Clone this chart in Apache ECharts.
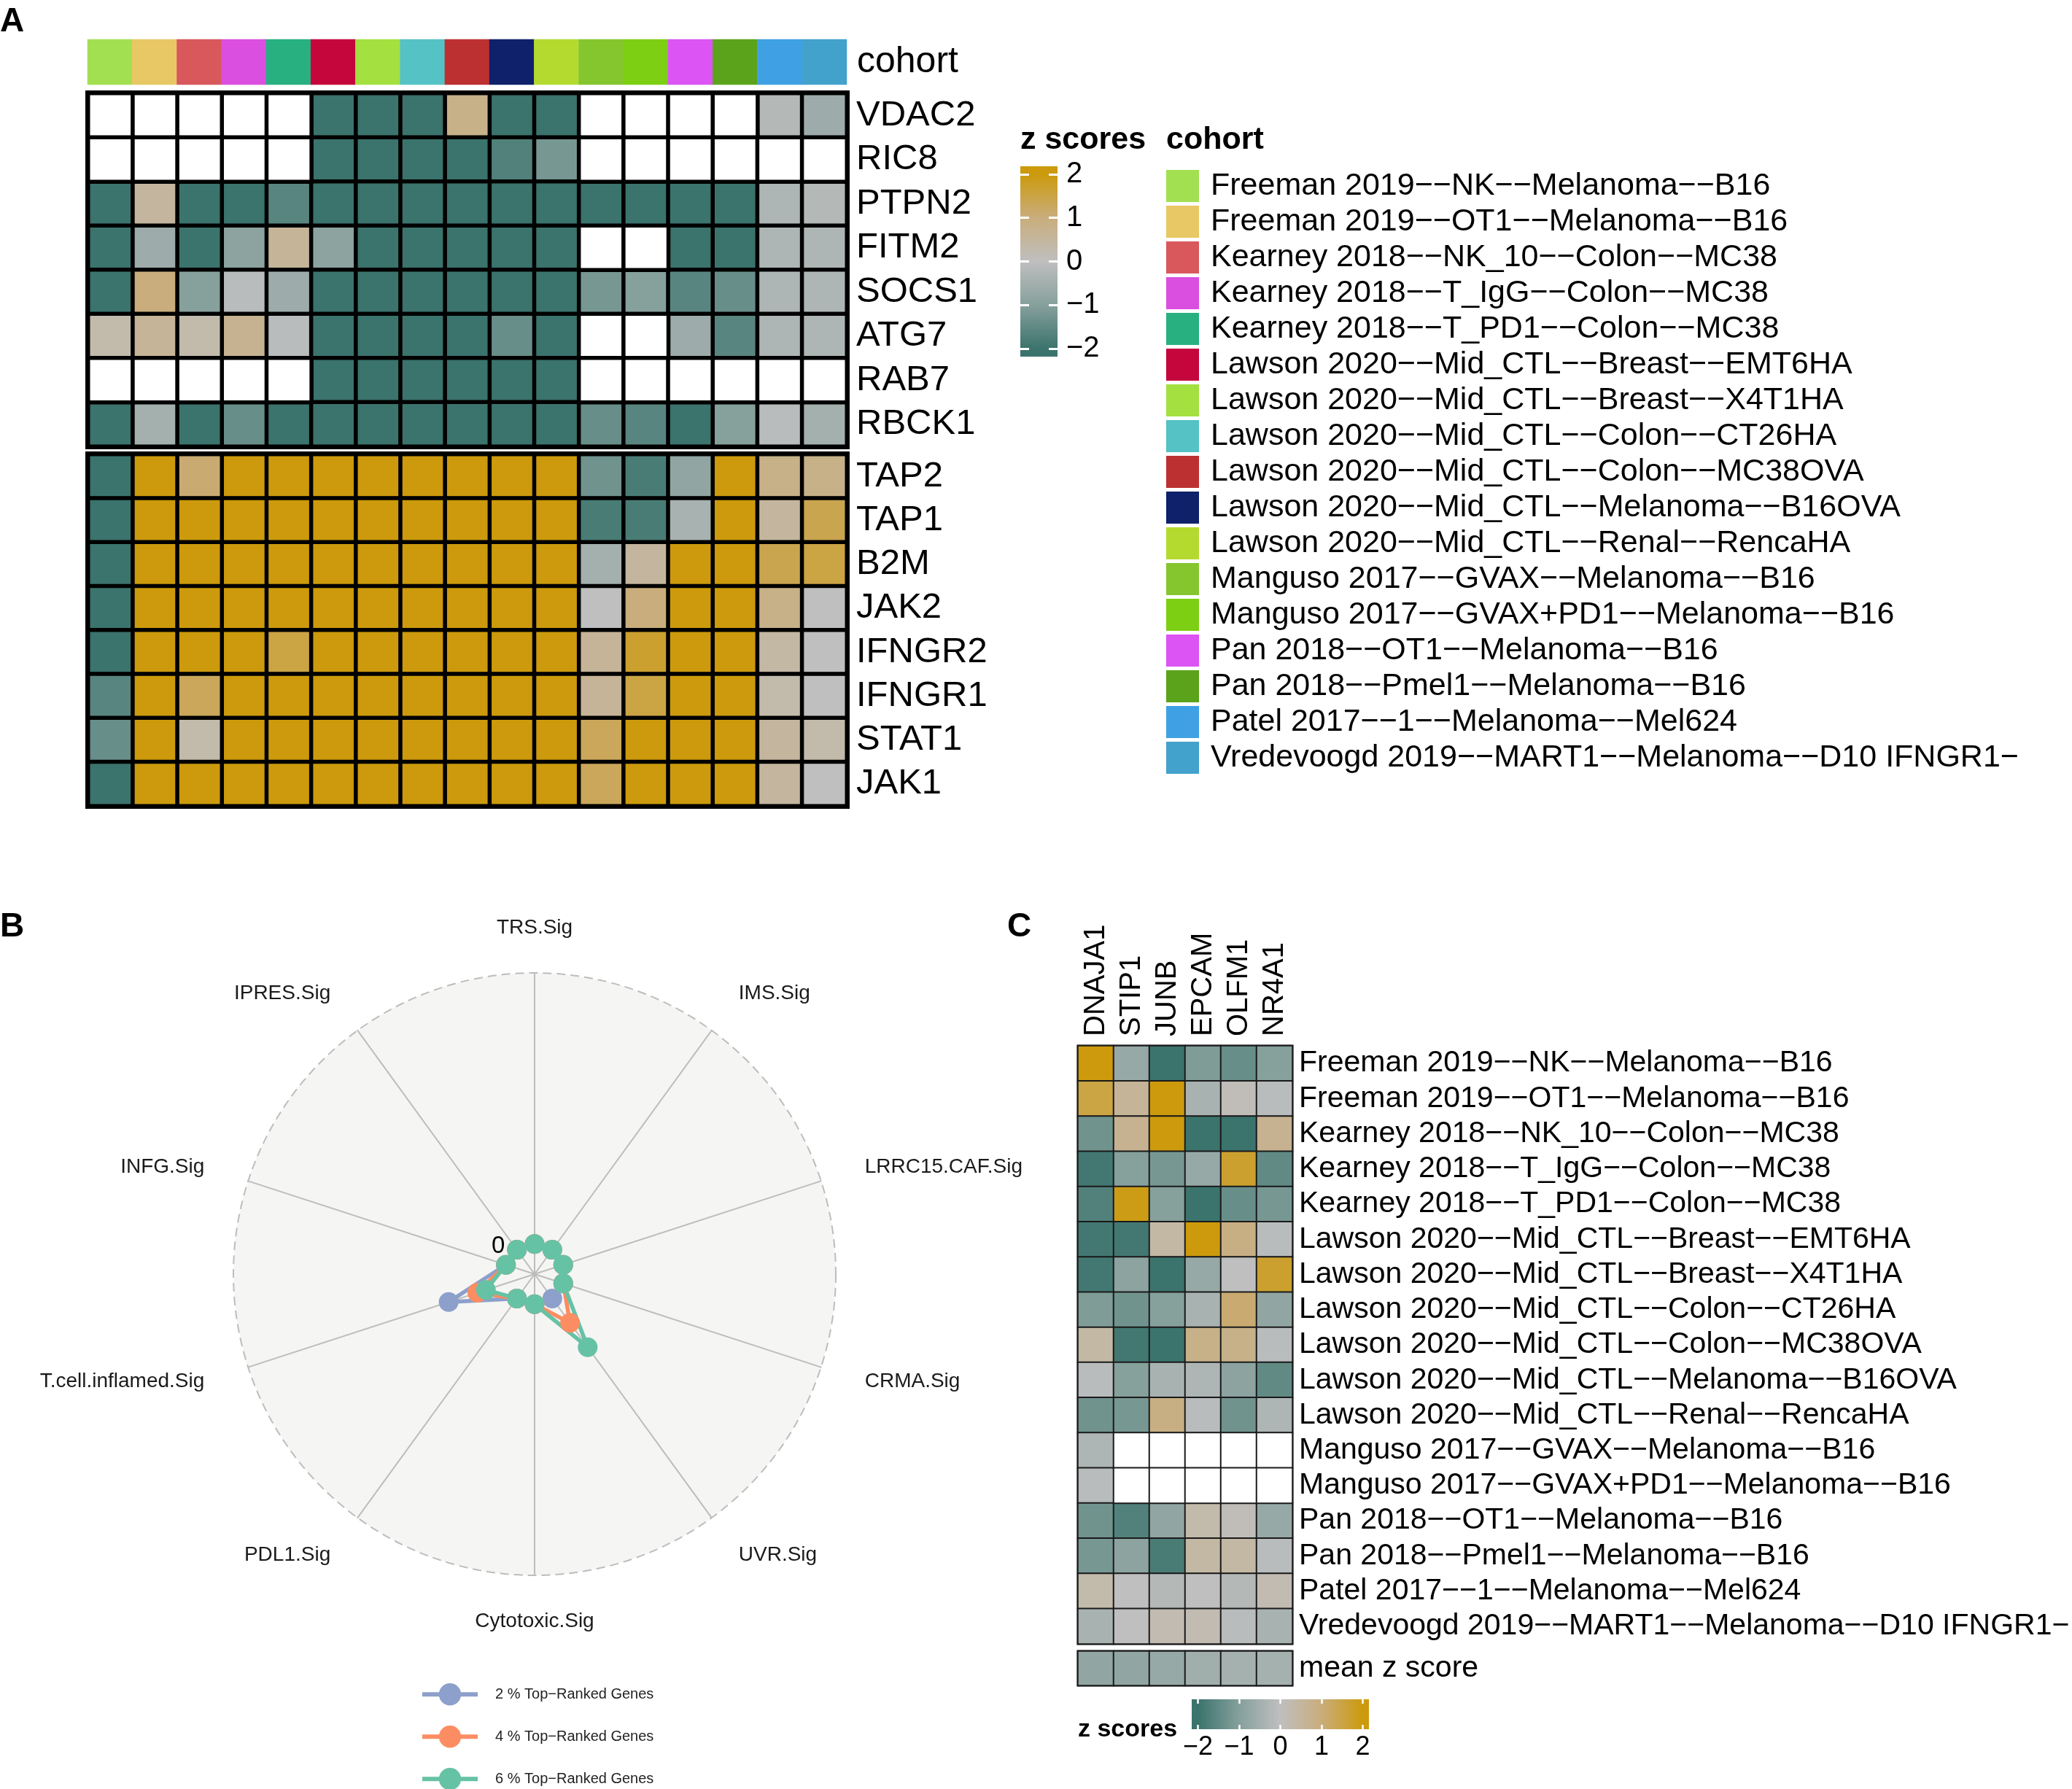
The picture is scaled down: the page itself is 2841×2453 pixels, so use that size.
<!DOCTYPE html>
<html lang="en">
<head>
<meta charset="UTF-8">
<title>Cohort z scores</title>
<script src="https://cdn.jsdelivr.net/npm/echarts@6/dist/echarts.min.js"></script>
<style>
  html, body { margin: 0; padding: 0; background: #fff; }
  #main { width: 2841px; height: 2453px; }
</style>
</head>
<body>
<div id="main"></div>
<script>
// ---------- panel A ----------
const cohorts = [
  'Freeman 2019−−NK−−Melanoma−−B16',
  'Freeman 2019−−OT1−−Melanoma−−B16',
  'Kearney 2018−−NK_10−−Colon−−MC38',
  'Kearney 2018−−T_IgG−−Colon−−MC38',
  'Kearney 2018−−T_PD1−−Colon−−MC38',
  'Lawson 2020−−Mid_CTL−−Breast−−EMT6HA',
  'Lawson 2020−−Mid_CTL−−Breast−−X4T1HA',
  'Lawson 2020−−Mid_CTL−−Colon−−CT26HA',
  'Lawson 2020−−Mid_CTL−−Colon−−MC38OVA',
  'Lawson 2020−−Mid_CTL−−Melanoma−−B16OVA',
  'Lawson 2020−−Mid_CTL−−Renal−−RencaHA',
  'Manguso 2017−−GVAX−−Melanoma−−B16',
  'Manguso 2017−−GVAX+PD1−−Melanoma−−B16',
  'Pan 2018−−OT1−−Melanoma−−B16',
  'Pan 2018−−Pmel1−−Melanoma−−B16',
  'Patel 2017−−1−−Melanoma−−Mel624',
  'Vredevoogd 2019−−MART1−−Melanoma−−D10 IFNGR1−'
];
const cohortColors = ['#a2e052', '#e8c864', '#d8585c', '#da4fdf', '#28b080', '#c5063d', '#a3e040', '#55c2c5', '#bd3031',
  '#0f216a', '#b4da30', '#85c62f', '#7dcf14', '#dc54f4', '#5ba31b', '#3fa1e4', '#42a2cb'];

const genesTop = ['VDAC2', 'RIC8', 'PTPN2', 'FITM2', 'SOCS1', 'ATG7', 'RAB7', 'RBCK1'];
const genesBot = ['TAP2', 'TAP1', 'B2M', 'JAK2', 'IFNGR2', 'IFNGR1', 'STAT1', 'JAK1'];
const N = null; // missing value, drawn white

// one row per gene, one value per cohort
const zTop = [
  [N, N, N, N, N, -2, -2, -2, 0.8, -2, -2, N, N, N, N, -0.2, -0.6],
  [N, N, N, N, N, -2, -2, -2, -2, -1.7, -1.2, N, N, N, N, N, N],
  [-2, 0.5, -2, -2, -1.6, -2, -2, -2, -2, -2, -2, -2, -2, -2, -2, -0.3, -0.2],
  [-2, -0.6, -2, -0.9, 0.6, -0.9, -2, -2, -2, -2, -2, N, N, -2, -2, -0.3, -0.3],
  [-2, 1.0, -1.0, -0.1, -0.6, -2, -2, -2, -2, -2, -2, -1.2, -1.0, -1.6, -1.4, -0.3, -0.3],
  [0.3, 0.6, 0.3, 0.7, -0.1, -2, -2, -2, -2, -1.4, -2, N, N, -0.6, -1.6, -0.3, -0.3],
  [N, N, N, N, N, -2, -2, -2, -2, -2, -2, N, N, N, N, N, N],
  [-2, -0.5, -2, -1.4, -2, -2, -2, -2, -2, -2, -2, -1.4, -1.6, -2, -1.0, -0.1, -0.5]
];
const zBot = [
  [-2, 2, 1.1, 2, 2, 2, 2, 2, 2, 2, 2, -1.3, -1.8, -0.8, 2, 0.8, 0.8],
  [-2, 2, 2, 2, 2, 2, 2, 2, 2, 2, 2, -1.8, -1.8, -0.4, 2, 0.5, 1.4],
  [-2, 2, 2, 2, 2, 2, 2, 2, 2, 2, 2, -0.5, 0.5, 2, 2, 1.4, 1.5],
  [-2, 2, 2, 2, 2, 2, 2, 2, 2, 2, 2, 0, 1.0, 2, 2, 0.8, 0],
  [-2, 2, 2, 2, 1.5, 2, 2, 2, 2, 2, 2, 0.6, 1.7, 2, 2, 0.4, 0],
  [-1.6, 2, 1.3, 2, 2, 2, 2, 2, 2, 2, 2, 0.6, 1.5, 2, 2, 0.3, 0],
  [-1.4, 2, 0.3, 2, 2, 2, 2, 2, 2, 2, 2, 1.3, 2, 2, 2, 0.5, 0.3],
  [-2, 2, 2, 2, 2, 2, 2, 2, 2, 2, 2, 1.3, 2, 2, 2, 0.5, 0]
];

// ---------- panel B ----------
// counter-clockwise from the top
const sigNames = ['TRS.Sig', 'IPRES.Sig', 'INFG.Sig', 'T.cell.inflamed.Sig', 'PDL1.Sig',
  'Cytotoxic.Sig', 'UVR.Sig', 'CRMA.Sig', 'LRRC15.CAF.Sig', 'IMS.Sig'];
const rankNames = ['2 % Top−Ranked Genes', '4 % Top−Ranked Genes', '6 % Top−Ranked Genes'];
const rank2 = [0, 0, 0, 1.0, 0, 0, 0, 0, 0, 0];
const rank4 = [0, 0, 0, 0.5, 0, 0, 0.5, 0, 0, 0];
const rank6 = [0, 0, 0, 0.35, 0, 0, 1.0, 0, 0, 0];
const rankColors = ['#8da0cb', '#fc8d62', '#66c2a5'];
const sigMin = -0.5, sigMax = 4.5;

// ---------- panel C ----------
const genesC = ['DNAJA1', 'STIP1', 'JUNB', 'EPCAM', 'OLFM1', 'NR4A1'];
// one row per cohort
const zC = [
  [2, -0.7, -2, -1.1, -1.4, -1.0],
  [1.5, 0.6, 2, -0.4, 0.1, -0.1],
  [-1.3, 0.7, 2, -2, -2, 0.7],
  [-1.9, -1.0, -1.2, -0.7, 1.7, -1.5],
  [-1.7, 1.9, -1.0, -2, -1.4, -1.2],
  [-1.9, -1.9, 0.4, 2, 0.9, -0.1],
  [-1.9, -0.9, -2, -0.7, 0, 1.7],
  [-1.1, -1.3, -1.0, -0.4, 1.1, -0.8],
  [0.4, -1.9, -2, 0.8, 0.8, -0.1],
  [-0.1, -1.0, -0.4, -0.3, -0.9, -1.5],
  [-1.3, -1.2, 0.9, -0.1, -1.3, -0.3],
  [-0.3, N, N, N, N, N],
  [-0.1, N, N, N, N, N],
  [-1.3, -1.7, -0.8, 0.3, 0.1, -0.7],
  [-1.2, -0.9, -1.8, 0.4, 0.4, -0.1],
  [0.3, 0, -0.2, 0, -0.2, 0.2],
  [-0.4, 0, 0.2, 0.2, -0.1, -0.4]
];
const zCmean = [[-0.8, -0.8, -0.7, -0.55, -0.45, -0.45]];

const heatColors = ['#3b736d', '#86a09c', '#bfbfbf', '#c9ad7c', '#cc9a0c']; // -2 .. 2
const legendTicks = [-2, -1, 0, 1, 2];
const fmt = v => (v < 0 ? '\u2212' + Math.abs(v) : String(v));
const font = "'Liberation Sans', Arial, sans-serif";

function cells(rows) {
  const val = [], na = [];
  rows.forEach((r, j) => r.forEach((v, i) => {
    if (v === null) na.push([i, j, 0]); else val.push([i, j, v]);
  }));
  return { val, na };
}

function stops(lo, hi, flip) {
  return heatColors.map((c, k) => {
    let o = (legendTicks[k] - lo) / (hi - lo);
    if (flip) o = 1 - o;
    return { offset: o, color: c };
  });
}

const series = [];
const mapped = [];
cohorts.forEach((c, i) => series.push({
  type: 'heatmap', name: c, xAxisIndex: 0, yAxisIndex: 0,
  data: [[i, 0, 1]], itemStyle: { color: cohortColors[i] }, emphasis: { disabled: true }
}));
function addHeat(rows, xi, yi, border, bw) {
  const d = cells(rows);
  mapped.push(series.length);
  series.push({ type: 'heatmap', xAxisIndex: xi, yAxisIndex: yi, data: d.val,
    itemStyle: { borderColor: border, borderWidth: bw }, emphasis: { disabled: true } });
  if (d.na.length) {
    series.push({ type: 'heatmap', xAxisIndex: xi, yAxisIndex: yi, data: d.na,
      itemStyle: { color: '#fff', borderColor: border, borderWidth: bw }, emphasis: { disabled: true } });
  }
}
addHeat(zTop, 1, 1, '#000', 5.5);
addHeat(zBot, 2, 2, '#000', 5.5);
addHeat(zC, 4, 5, '#1a1a1a', 2);
addHeat(zCmean, 5, 6, '#1a1a1a', 2);

[rank2, rank4, rank6].forEach((vals, k) => series.push({
  type: 'radar', radarIndex: 0, symbol: 'circle', symbolSize: 27,
  lineStyle: { width: 5.5, color: rankColors[k] }, itemStyle: { color: rankColors[k] },
  data: [{ name: rankNames[k], value: vals }], emphasis: { disabled: true }
}));
// empty line series only give the legend its line-and-dot keys
rankNames.forEach((n, k) => series.push({
  type: 'line', name: n, xAxisIndex: 8, yAxisIndex: 8, data: [], symbol: 'circle',
  lineStyle: { width: 6, color: rankColors[k] }, itemStyle: { color: rankColors[k] }
}));

const hidden = { show: false };
const catAxis = (gi, data, extra) => Object.assign({
  type: 'category', gridIndex: gi, data: data,
  axisLine: hidden, axisTick: hidden, splitLine: hidden, axisLabel: hidden
}, extra || {});
const rowLabels = (size, margin) => ({ show: true, interval: 0, fontSize: size, color: '#000', margin: margin });
const whiteTicks = (len, w) => ({ show: true, inside: true, length: len, customValues: legendTicks,
  lineStyle: { color: '#fff', width: w } });

const indicator = sigNames.map(n => ({ name: n, min: sigMin, max: sigMax }));
indicator[0].nameGap = 48;
indicator[5].nameGap = 49;

const splitColors = ['transparent', 'transparent', 'transparent', 'transparent', 'transparent',
  'transparent', 'transparent', 'transparent', 'transparent', 'transparent', '#bdbdbd'];

const panelTitle = { fontSize: 46, fontWeight: 'bold', color: '#000' };

const option = {
  backgroundColor: '#fff',
  animation: false,
  textStyle: { fontFamily: font },
  title: [
    { text: 'A', left: 0, top: 7, padding: 0, textStyle: panelTitle },
    { text: 'B', left: 0, top: 1248, padding: 0, textStyle: panelTitle },
    { text: 'C', left: 1381, top: 1248, padding: 0, textStyle: panelTitle },
    { text: 'z scores', left: 1399, top: 171, padding: 0, textStyle: { fontSize: 43, fontWeight: 'bold', color: '#000' } },
    { text: 'cohort', left: 1599, top: 171, padding: 0, textStyle: { fontSize: 43, fontWeight: 'bold', color: '#000' } },
    { text: 'z scores', left: 1478, top: 2355, padding: 0, textStyle: { fontSize: 34, fontWeight: 'bold', color: '#000' } },
    // radial label of the zero ring
    { text: '0', left: 674, top: 1692, padding: 0, textStyle: { fontSize: 33, fontWeight: 'normal', color: '#000' } }
  ],
  grid: [
    { left: 120, top: 54, width: 1041, height: 62 },
    { left: 121, top: 128, width: 1040, height: 484, show: true, borderColor: '#000', borderWidth: 8 },
    { left: 121, top: 623, width: 1040, height: 482, show: true, borderColor: '#000', borderWidth: 8 },
    { left: 1399, top: 228, width: 51, height: 261, show: true, borderWidth: 0,
      backgroundColor: new echarts.graphic.LinearGradient(0, 0, 0, 1, stops(-2.18, 2.18, true)) },
    { left: 1478, top: 1434, width: 294, height: 820, show: true, borderColor: '#1a1a1a', borderWidth: 3 },
    { left: 1478, top: 2264, width: 294, height: 47, show: true, borderColor: '#1a1a1a', borderWidth: 3 },
    { left: 1634, top: 2330, width: 243, height: 41, show: true, borderWidth: 0,
      backgroundColor: new echarts.graphic.LinearGradient(0, 0, 1, 0, stops(-2.15, 2.15, false)) },
    { left: 0, top: 0, width: 1, height: 1 }
  ],
  xAxis: [
    catAxis(0, cohorts),
    catAxis(1, cohorts),
    catAxis(2, cohorts),
    { type: 'value', gridIndex: 3, min: 0, max: 1, show: false },
    catAxis(4, genesC, { position: 'top', axisLabel: Object.assign(rowLabels(40, 13), { rotate: -90 }) }),
    catAxis(5, genesC),
    { type: 'value', gridIndex: 6, min: -2.15, max: 2.15, position: 'bottom',
      axisLine: hidden, splitLine: hidden, axisTick: whiteTicks(6, 2.5),
      axisLabel: { show: true, customValues: legendTicks, formatter: fmt, fontSize: 36, color: '#000', margin: 7 } },
    { type: 'value', gridIndex: 6, min: -2.15, max: 2.15, position: 'top',
      axisLine: hidden, splitLine: hidden, axisTick: whiteTicks(6, 2.5), axisLabel: hidden },
    { type: 'category', gridIndex: 7, data: ['a'], show: false }
  ],
  yAxis: [
    catAxis(0, ['cohort'], { position: 'right', axisLabel: rowLabels(50, 14) }),
    catAxis(1, genesTop, { position: 'right', inverse: true, axisLabel: rowLabels(49, 13) }),
    catAxis(2, genesBot, { position: 'right', inverse: true, axisLabel: rowLabels(49, 13) }),
    { type: 'value', gridIndex: 3, min: -2.18, max: 2.18, position: 'left',
      axisLine: hidden, splitLine: hidden, axisTick: whiteTicks(12, 3), axisLabel: hidden },
    { type: 'value', gridIndex: 3, min: -2.18, max: 2.18, position: 'right',
      axisLine: hidden, splitLine: hidden, axisTick: whiteTicks(12, 3),
      axisLabel: { show: true, customValues: legendTicks, formatter: fmt, fontSize: 40, color: '#000', margin: 12 } },
    catAxis(4, cohorts, { position: 'right', inverse: true, axisLabel: rowLabels(41, 9) }),
    catAxis(5, ['mean z score'], { position: 'right', axisLabel: rowLabels(41, 9) }),
    { type: 'value', gridIndex: 6, show: false },
    { type: 'value', gridIndex: 7, show: false }
  ],
  visualMap: {
    type: 'continuous', show: false, min: -2, max: 2, dimension: 2,
    seriesIndex: mapped, inRange: { color: heatColors }
  },
  radar: {
    center: [733, 1747], radius: 413, shape: 'circle', startAngle: 90, splitNumber: 10,
    indicator: indicator, nameGap: 63,
    axisName: { color: '#1a1a1a', fontSize: 28 },
    axisLine: { lineStyle: { color: '#bdbdbd', width: 2 } },
    axisTick: hidden,
    axisLabel: { show: false },
    splitLine: { lineStyle: { color: splitColors, width: 2, type: [12, 7] } },
    splitArea: { areaStyle: { color: ['#f5f5f3'] } }
  },
  legend: [
    { data: cohorts, orient: 'vertical', left: 1599, top: 233, padding: 0, icon: 'rect',
      itemWidth: 45, itemHeight: 44, itemGap: 5, selectedMode: false,
      textStyle: { fontSize: 43, color: '#000', padding: [0, 0, 0, 11] } },
    { data: rankNames, orient: 'vertical', left: 576, top: 2308, height: 180, padding: 0,
      itemWidth: 76, itemHeight: 38, itemGap: 27.6, selectedMode: false,
      lineStyle: { width: 6 },
      textStyle: { fontSize: 20, color: '#222', padding: [0, 0, 0, 19] } }
  ],
  series: series
};

const chart = echarts.init(document.getElementById('main'));
chart.setOption(option);
</script>
</body>
</html>
